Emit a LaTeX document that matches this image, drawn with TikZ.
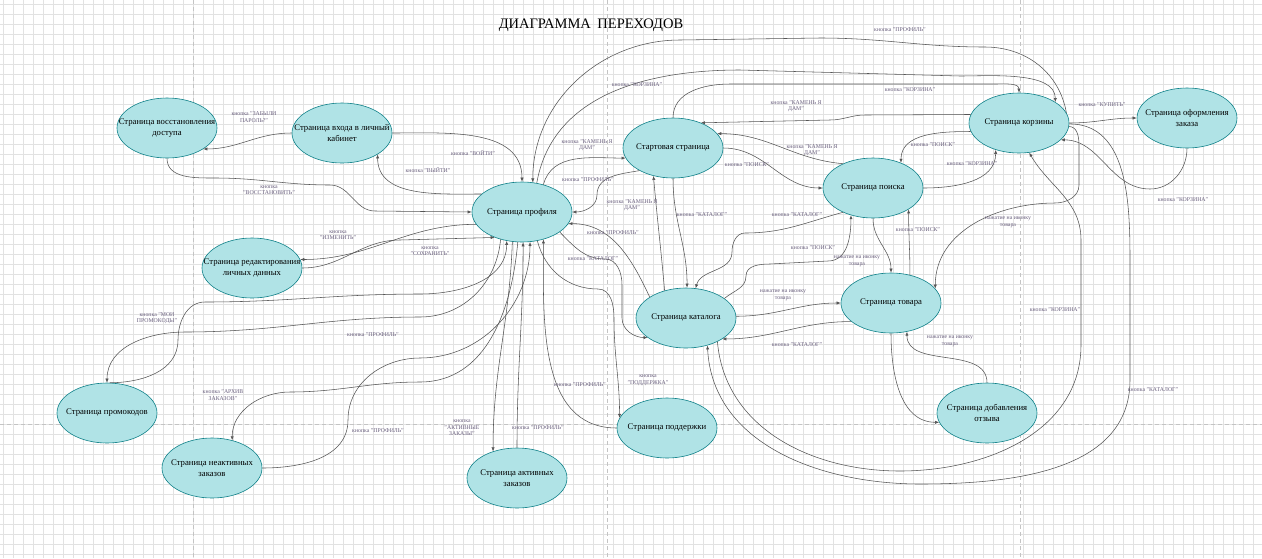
\documentclass[tikz,border=0pt]{standalone}
\usepackage{fontspec}
\setmainfont{Liberation Serif}
\usetikzlibrary{shapes.geometric,arrows.meta}
\definecolor{gridc}{RGB}{226,226,226}
\definecolor{pagec}{RGB}{196,196,196}
\definecolor{fillc}{RGB}{176,227,230}
\definecolor{strokec}{RGB}{14,128,136}
\definecolor{edgec}{RGB}{85,85,85}
\definecolor{lblc}{RGB}{105,95,125}
\begin{document}
\begin{tikzpicture}[x=1pt,y=1pt,
  page/.style={ellipse, draw=strokec, fill=fillc, line width=0.6pt, minimum width=100pt, minimum height=60pt, inner sep=0pt},
  ptext/.style={font=\fontsize{8.7}{10.6}\selectfont, align=center, inner sep=0pt, text=black},
  lbl/.style={font=\fontsize{5.8}{6.6}\selectfont, align=center, text=lblc, inner sep=0pt},
  conn/.style={draw=edgec, line width=0.55pt, -{Latex[length=4pt,width=3.2pt]}},
  pagebreak/.style={draw=pagec, line width=0.9pt, dash pattern=on 4pt off 3pt}
  ]
\useasboundingbox (0,0) rectangle (1262,-558);
\fill[white] (0,0) rectangle (1262,-558);
% grid
\foreach \x in {3,13,...,1263} \draw[gridc, line width=0.45pt] (\x,0) -- (\x,-558);
\foreach \y in {4,14,...,554} \draw[gridc, line width=0.45pt] (0,-\y) -- (1262,-\y);
% page breaks
\draw[pagebreak] (193,0) -- (193,-558);
\draw[pagebreak] (607,0) -- (607,-558);
\draw[pagebreak] (1020,0) -- (1020,-558);
\draw[pagebreak] (0,-424) -- (1262,-424);

% title
\node[font=\fontsize{14.5}{16}\selectfont, inner sep=0pt] (title) at (591,-25) {ДИАГРАММА\hspace{0.45em}ПЕРЕХОДОВ};

% pages
\node[page, label={[ptext]center:{Страница восстановления\\доступа}}] (rec) at (167,-128) {};
\node[page, label={[ptext]center:{Страница входа в личный\\кабинет}}] (login) at (342,-133) {};
\node[page, label={[ptext]center:{Страница редактирования\\личных данных}}] (edit) at (252,-268) {};
\node[page, label={[ptext]center:{Страница профиля}}] (prof) at (522,-212) {};
\node[page, label={[ptext]center:{Стартовая страница}}] (start) at (673,-148) {};
\node[page, label={[ptext]center:{Страница корзины}}] (cart) at (1019,-123) {};
\node[page, label={[ptext]center:{Страница оформления\\заказа}}] (order) at (1187,-118) {};
\node[page, label={[ptext]center:{Страница поиска}}] (search) at (873,-188) {};
\node[page, label={[ptext]center:{Страница товара}}] (item) at (891,-303) {};
\node[page, label={[ptext]center:{Страница добавления\\отзыва}}] (review) at (987,-413) {};
\node[page, label={[ptext]center:{Страница каталога}}] (cat) at (686,-318) {};
\node[page, label={[ptext]center:{Страница поддержки}}] (support) at (667,-428) {};
\node[page, label={[ptext]center:{Страница активных\\заказов}}] (active) at (517,-478) {};
\node[page, label={[ptext]center:{Страница промокодов}}] (promo) at (107,-413) {};
\node[page, label={[ptext]center:{Страница неактивных\\заказов}}] (inactive) at (212,-468) {};

% connectors
\draw[conn] (login.180) to[out=180,in=0] (rec.-30);
\draw[conn] (rec.270) to[out=-90,in=180] (215,-178) to[out=0,in=180] (330,-185) to[out=0,in=180] (375,-211) -- (prof.180);
\draw[conn] (login.0) to[out=0,in=90] (prof.90);
\draw[conn] (prof.156) to[out=180,in=-90] (login.-31);
\draw[conn] (prof.195) to[out=180,in=0] (edit.10);
\draw[conn] (edit.0) to[out=0,in=180] (400,-240) -- (prof.-137);
\draw[conn] (cart.12) to[out=100,in=0] (985,-47) to[out=180,in=0] (820,-38) -- (680,-40) to[out=180,in=90] (prof.70);
\draw[conn] (prof.63) to[out=80,in=180] (740,-70) -- (960,-76) to[out=0,in=90,looseness=0.8] (cart.30);
\draw[conn] (start.90) to[out=90,in=180] (730,-84) -- (995,-84) to[out=0,in=90] (cart.90);
\draw[conn] (cart.170) -- (865,-115) to[out=180,in=0] (830,-120) -- (start.42);
\draw[conn] (prof.52) to[out=75,in=180] (start.192);
\draw[conn] (start.214) to[out=190,in=90] (597,-195) to[out=-90,in=0] (prof.0);
\draw[conn] (cat.128) to[out=95,in=-85] (start.-125);
\draw[conn] (start.-90) to[out=-90,in=90] (cat.88);
\draw[conn] (search.219) to[out=195,in=0] (745,-233) to[out=180,in=90] (732,-252) to[out=-90,in=75] (cat.72);
\draw[conn] (cat.27) to[out=40,in=-90] (746,-276) to[out=90,in=180] (770,-264) -- (828,-261) to[out=0,in=-90] (search.-129);
\draw[conn] (cat.2) to[out=0,in=180] (item.180);
\draw[conn] (item.205) to[out=180,in=0] (cat.-30);
\draw[conn] (start.0) to[out=0,in=180] (search.180);
\draw[conn] (search.141) to[out=175,in=0] (start.18);
\draw[conn] (cart.190) to[out=180,in=90] (search.42);
\draw[conn] (search.0) to[out=0,in=-90] (cart.-131);
\draw[conn] (cart.0) to[out=0,in=180] (order.180);
\draw[conn] (order.270) to[out=-90,in=0] (1150,-189) to[out=180,in=0] (cart.-22);
\draw[conn] (cart.-4) to[out=0,in=90] (1079,-145) -- (1079,-185) to[out=-90,in=0] (1055,-203) to[out=180,in=90] (item.18);
\draw[conn] (search.270) to[out=-90,in=90] (item.90);
\draw[conn] (item.56) to[out=90,in=-90] (search.-31);
\draw[conn] (review.90) to[out=90,in=-90] (item.-61);
\draw[conn] (item.270) to[out=-90,in=180] (review.-169);
\draw[conn] (cat.-37) to[out=-85,in=180] (900,-471) to[out=0,in=-90] (1081,-345) -- (1081,-240) to[out=90,in=-60] (cart.-71);
\draw[conn] (cart.-1) to[out=0,in=90] (1130,-260) -- (1130,-380) to[out=-90,in=0] (920,-484) to[out=180,in=-87] (cat.-52);
\draw[conn] (prof.-28) to[out=-45,in=180] (605,-259) to[out=0,in=90] (622,-285) -- (622,-318) to[out=-90,in=180] (cat.-153);
\draw[conn] (cat.150) to[out=115,in=0] (prof.-14);
\draw[conn] (prof.-62) to[out=-75,in=180] (598,-289) to[out=0,in=90] (614,-318) to[out=-90,in=90] (support.168);
\draw[conn] (support.180) to[out=180,in=-90] (prof.-52);
\draw[conn] (active.90) to[out=90,in=-90] (prof.-88);
\draw[conn] (prof.-108) to[out=-92,in=90] (active.132);
\draw[conn] (prof.-128) to[out=-95,in=0] (420,-317) to[out=180,in=0] (185,-332) to[out=180,in=90] (promo.90);
\draw[conn] (promo.85) to[out=0,in=-90] (178,-340) to[out=90,in=180] (205,-302) to[out=0,in=180] (420,-294) to[out=0,in=-90] (prof.-118);
\draw[conn] (inactive.0) to[out=0,in=-90] (348,-420) to[out=90,in=180] (420,-358) to[out=0,in=-90] (prof.-75);
\draw[conn] (prof.-98) to[out=-95,in=0] (420,-382) to[out=180,in=0] (290,-392) to[out=180,in=90] (inactive.54);

% labels
\node[lbl] (l1) at (254,-117) {кнопка "ЗАБЫЛИ\\ПАРОЛЬ?"};
\node[lbl] (l2) at (269,-190) {кнопка\\"ВОССТАНОВИТЬ"};
\node[lbl] (l3) at (473,-153) {кнопка "ВОЙТИ"};
\node[lbl] (l4) at (428,-170) {кнопка "ВЫЙТИ"};
\node[lbl] (l5) at (338,-235) {кнопка\\"ИЗМЕНИТЬ"};
\node[lbl] (l6) at (430,-251) {кнопка\\"СОХРАНИТЬ"};
\node[lbl] (l7) at (637,-85) {кнопка "КОРЗИНА"};
\node[lbl] (l8) at (900,-30) {кнопка "ПРОФИЛЬ"};
\node[lbl] (l9) at (910,-90) {кнопка "КОРЗИНА"};
\node[lbl] (l10) at (796,-106) {кнопка "КАМЕНЬ Я\\ДАМ"};
\node[lbl] (l11) at (587,-145) {кнопка "КАМЕНЬ Я\\ДАМ"};
\node[lbl] (l12) at (588,-180) {кнопка "ПРОФИЛЬ"};
\node[lbl] (l13) at (632,-205) {кнопка "КАМЕНЬ Я\\ДАМ"};
\node[lbl] (l14) at (613,-233) {кнопка "ПРОФИЛЬ"};
\node[lbl] (l15) at (593,-259) {кнопка "КАТАЛОГ"};
\node[lbl] (l16) at (702,-215) {кнопка "КАТАЛОГ"};
\node[lbl] (l17) at (747,-165) {кнопка "ПОИСК"};
\node[lbl] (l18) at (812,-150) {кнопка "КАМЕНЬ Я\\ДАМ"};
\node[lbl] (l19) at (797,-215) {кнопка "КАТАЛОГ"};
\node[lbl] (l20) at (813,-248) {кнопка "ПОИСК"};
\node[lbl] (l21) at (933,-145) {кнопка "ПОИСК"};
\node[lbl] (l22) at (972,-164) {кнопка "КОРЗИНА"};
\node[lbl] (l23) at (1102,-105) {кнопка "КУПИТЬ"};
\node[lbl] (l24) at (1183,-200) {кнопка "КОРЗИНА"};
\node[lbl] (l25) at (1008,-222) {нажатие на иконку\\товара};
\node[lbl] (l26) at (857,-261) {нажатие на иконку\\товара};
\node[lbl] (l27) at (918,-230) {кнопка "ПОИСК"};
\node[lbl] (l28) at (783,-295) {нажатие на иконку\\товара};
\node[lbl] (l29) at (797,-345) {кнопка "КАТАЛОГ"};
\node[lbl] (l30) at (950,-341) {нажатие на иконку\\товара};
\node[lbl] (l31) at (1055,-310) {кнопка "КОРЗИНА"};
\node[lbl] (l32) at (1153,-390) {кнопка "КАТАЛОГ"};
\node[lbl] (l33) at (157,-318) {кнопка "МОИ\\ПРОМОКОДЫ"};
\node[lbl] (l34) at (373,-335) {кнопка "ПРОФИЛЬ"};
\node[lbl] (l35) at (223,-395) {кнопка "АРХИВ\\ЗАКАЗОВ"};
\node[lbl] (l36) at (378,-431) {кнопка "ПРОФИЛЬ"};
\node[lbl] (l37) at (462,-428) {кнопка\\"АКТИВНЫЕ\\ЗАКАЗЫ"};
\node[lbl] (l38) at (538,-428) {кнопка "ПРОФИЛЬ"};
\node[lbl] (l39) at (648,-380) {кнопка\\"ПОДДЕРЖКА"};
\node[lbl] (l40) at (580,-385) {кнопка "ПРОФИЛЬ"};
\end{tikzpicture}
\end{document}
